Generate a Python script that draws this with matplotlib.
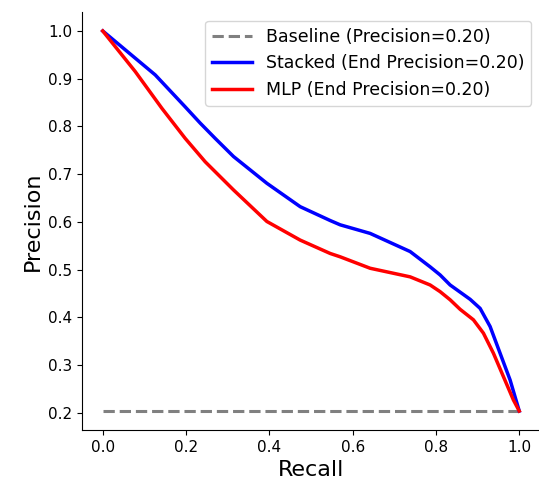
import numpy as np
import matplotlib
matplotlib.use('Agg')
import matplotlib.pyplot as plt

# values
stacked_recall = [0.0, 0.126, 0.198, 0.234, 0.27, 0.314, 0.394, 0.474, 0.546, 0.57, 0.642,
                  0.738, 0.786, 0.81, 0.834, 0.882, 0.906, 0.93, 0.954, 0.978, 1.0]
stacked_prec = [1.0, 0.908, 0.841, 0.807, 0.775, 0.737, 0.681, 0.632, 0.603, 0.594, 0.576,
                0.538, 0.506, 0.489, 0.468, 0.438, 0.419, 0.381, 0.325, 0.269, 0.204]
mlp_recall = [0.0, 0.078, 0.142, 0.198, 0.246, 0.314, 0.394, 0.474, 0.546, 0.57, 0.642,
              0.738, 0.786, 0.81, 0.834, 0.858, 0.89, 0.914, 0.938, 0.962, 0.986, 1.0]
mlp_prec = [1.0, 0.915, 0.838, 0.775, 0.726, 0.667, 0.601, 0.562, 0.534, 0.527, 0.503,
            0.485, 0.468, 0.454, 0.437, 0.417, 0.395, 0.367, 0.325, 0.276, 0.227, 0.204]
baseline = 0.204

fig = plt.figure(figsize=(5.39, 4.83), dpi=100)
ax = fig.add_axes([0.152, 0.1097, 0.85, 0.8655])

ax.plot([0, 1], [baseline, baseline], '--', color='gray', lw=2.2,
        label='Baseline (Precision=%.2f)' % baseline)
ax.plot(stacked_recall, stacked_prec, color='blue', lw=2.5,
        label='Stacked (End Precision=%.2f)' % stacked_prec[-1])
ax.plot(mlp_recall, mlp_prec, color='red', lw=2.5,
        label='MLP (End Precision=%.2f)' % mlp_prec[-1])

ax.set_xlabel('Recall', fontsize=16)
ax.set_ylabel('Precision', fontsize=16)
ax.tick_params(labelsize=11)
ax.spines['top'].set_visible(False)
ax.spines['right'].set_visible(False)
ax.legend(loc='upper right', fontsize=12.5, handlelength=2.3)

plt.savefig('out.png', dpi=100)
